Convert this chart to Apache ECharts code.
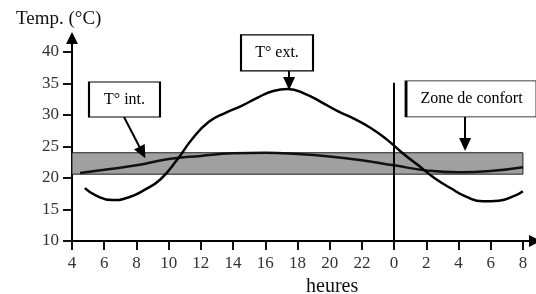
<!DOCTYPE html>
<html>
<head>
<meta charset="utf-8">
<script src="https://cdn.jsdelivr.net/npm/echarts@6/dist/echarts.min.js"></script>
<style>
  html, body { margin: 0; padding: 0; background: #fff; }
  #graph { width: 536px; height: 294px; }
</style>
</head>
<body>
<div id="graph"></div>
<script>
// heures (4h -> 8h le lendemain, 24 = minuit)
var xTicks = [4, 6, 8, 10, 12, 14, 16, 18, 20, 22, 24, 26, 28, 30, 32];
var yTicks = [10, 15, 20, 25, 30, 35, 40];

// T° ext.
var extHours = [4.8, 5.5, 6.5, 7.5, 8.5, 9.5, 10.5, 11.5, 12.5, 13.5, 14.5, 15.5, 16.5, 17.4, 18.5, 19.5, 20.5, 21.5, 22.5, 23.5, 24.5, 25.5, 26.5, 27.5, 28.5, 29.5, 30.5, 31.5, 32];
var extTemps = [18.4, 17.2, 16.5, 16.9, 18.1, 19.8, 22.8, 26.3, 28.9, 30.3, 31.4, 32.7, 33.8, 34.1, 33.3, 32.0, 30.6, 29.4, 28.0, 26.2, 24.0, 22.0, 20.0, 18.4, 17.0, 16.3, 16.4, 17.2, 17.9];

// T° int.
var intHours = [4.5, 6, 8, 10, 12, 14, 16, 18, 20, 22, 24, 26, 28, 30, 32];
var intTemps = [20.8, 21.3, 22.0, 23.0, 23.5, 23.9, 24.0, 23.8, 23.4, 22.8, 22.0, 21.2, 20.9, 21.1, 21.7];

// zone de confort
var confortMin = 20.6;
var confortMax = 24;
var minuit = 24;

function pairs(xs, ys) {
    var out = [];
    for (var i = 0; i < xs.length; i++) out.push([xs[i], ys[i]]);
    return out;
}

var serif = 'Liberation Serif';
var myChart = echarts.init(document.getElementById('graph'));

var option = {
    animation: false,
    title: [
        {
            text: 'Temp. (°C)',
            left: 11,
            top: 5,
            textStyle: { fontFamily: serif, fontSize: 19, fontWeight: 'normal', color: '#111' }
        },
        {
            text: 'heures',
            left: 301,
            top: 272,
            textStyle: { fontFamily: serif, fontSize: 20, fontWeight: 'normal', color: '#111' }
        }
    ],
    grid: { left: 72, right: 1, top: 38, bottom: 53 },
    xAxis: {
        type: 'value',
        min: 4,
        max: 32.75,
        splitLine: { show: false },
        axisLine: {
            lineStyle: { color: '#000', width: 2 },
            symbol: ['none', 'triangle'],
            symbolSize: [12, 12]
        },
        axisTick: {
            customValues: xTicks,
            length: 9,
            lineStyle: { color: '#111', width: 2 }
        },
        axisLabel: {
            customValues: xTicks,
            margin: 14,
            fontFamily: serif,
            fontSize: 17,
            color: '#333',
            formatter: function (v) { return String(v % 24); }
        }
    },
    yAxis: {
        type: 'value',
        min: 10,
        max: 42.2,
        splitLine: { show: false },
        axisLine: {
            show: true,
            lineStyle: { color: '#000', width: 2 },
            symbol: ['none', 'triangle'],
            symbolSize: [12, 12]
        },
        axisTick: {
            show: true,
            customValues: yTicks,
            length: 9,
            lineStyle: { color: '#111', width: 2 }
        },
        axisLabel: {
            customValues: yTicks,
            margin: 13,
            fontFamily: serif,
            fontSize: 17,
            color: '#333'
        }
    },
    series: [
        {
            name: 'T° int.',
            type: 'line',
            smooth: true,
            symbol: 'none',
            z: 3,
            lineStyle: { color: '#111', width: 2.5 },
            data: pairs(intHours, intTemps),
            markArea: {
                silent: true,
                itemStyle: { color: '#a0a0a0', borderColor: '#222', borderWidth: 1 },
                data: [[{ xAxis: 4, yAxis: confortMin }, { xAxis: 32, yAxis: confortMax }]]
            }
        },
        {
            name: 'T° ext.',
            type: 'line',
            smooth: true,
            symbol: 'none',
            z: 4,
            lineStyle: { color: '#000', width: 2.5 },
            data: pairs(extHours, extTemps),
            markLine: {
                silent: true,
                symbol: ['none', 'none'],
                label: { show: false },
                lineStyle: { color: '#000', width: 2, type: 'solid' },
                data: [[{ coord: [minuit, 10] }, { coord: [minuit, 35.1] }]]
            }
        },
        {
            // flèches des étiquettes
            type: 'line',
            data: [],
            z: 5,
            markLine: {
                silent: true,
                symbol: ['none', 'triangle'],
                symbolSize: [12, 13],
                label: { show: false },
                lineStyle: { color: '#000', width: 2, type: 'solid' },
                data: [
                    [{ coord: [7.23, 29.68] }, { coord: [8.37, 24.03] }],
                    [{ coord: [17.48, 36.98] }, { coord: [17.48, 35.0] }],
                    [{ coord: [28.41, 29.68] }, { coord: [28.41, 25.3] }]
                ]
            },
            markPoint: {
                silent: true,
                symbol: 'rect',
                itemStyle: { color: '#fff', borderColor: '#000', borderWidth: 1.5 },
                label: {
                    show: true,
                    position: 'inside',
                    fontFamily: serif,
                    fontSize: 16,
                    color: '#000'
                },
                data: [
                    { coord: [7.26, 32.46], symbolSize: [71, 35], value: 'T° int.' },
                    { coord: [16.73, 39.84], symbolSize: [72, 36], value: 'T° ext.' },
                    { coord: [28.81, 32.54], symbolSize: [131, 36], value: 'Zone de confort' }
                ]
            }
        }
    ]
};

myChart.setOption(option);
</script>
</body>
</html>
